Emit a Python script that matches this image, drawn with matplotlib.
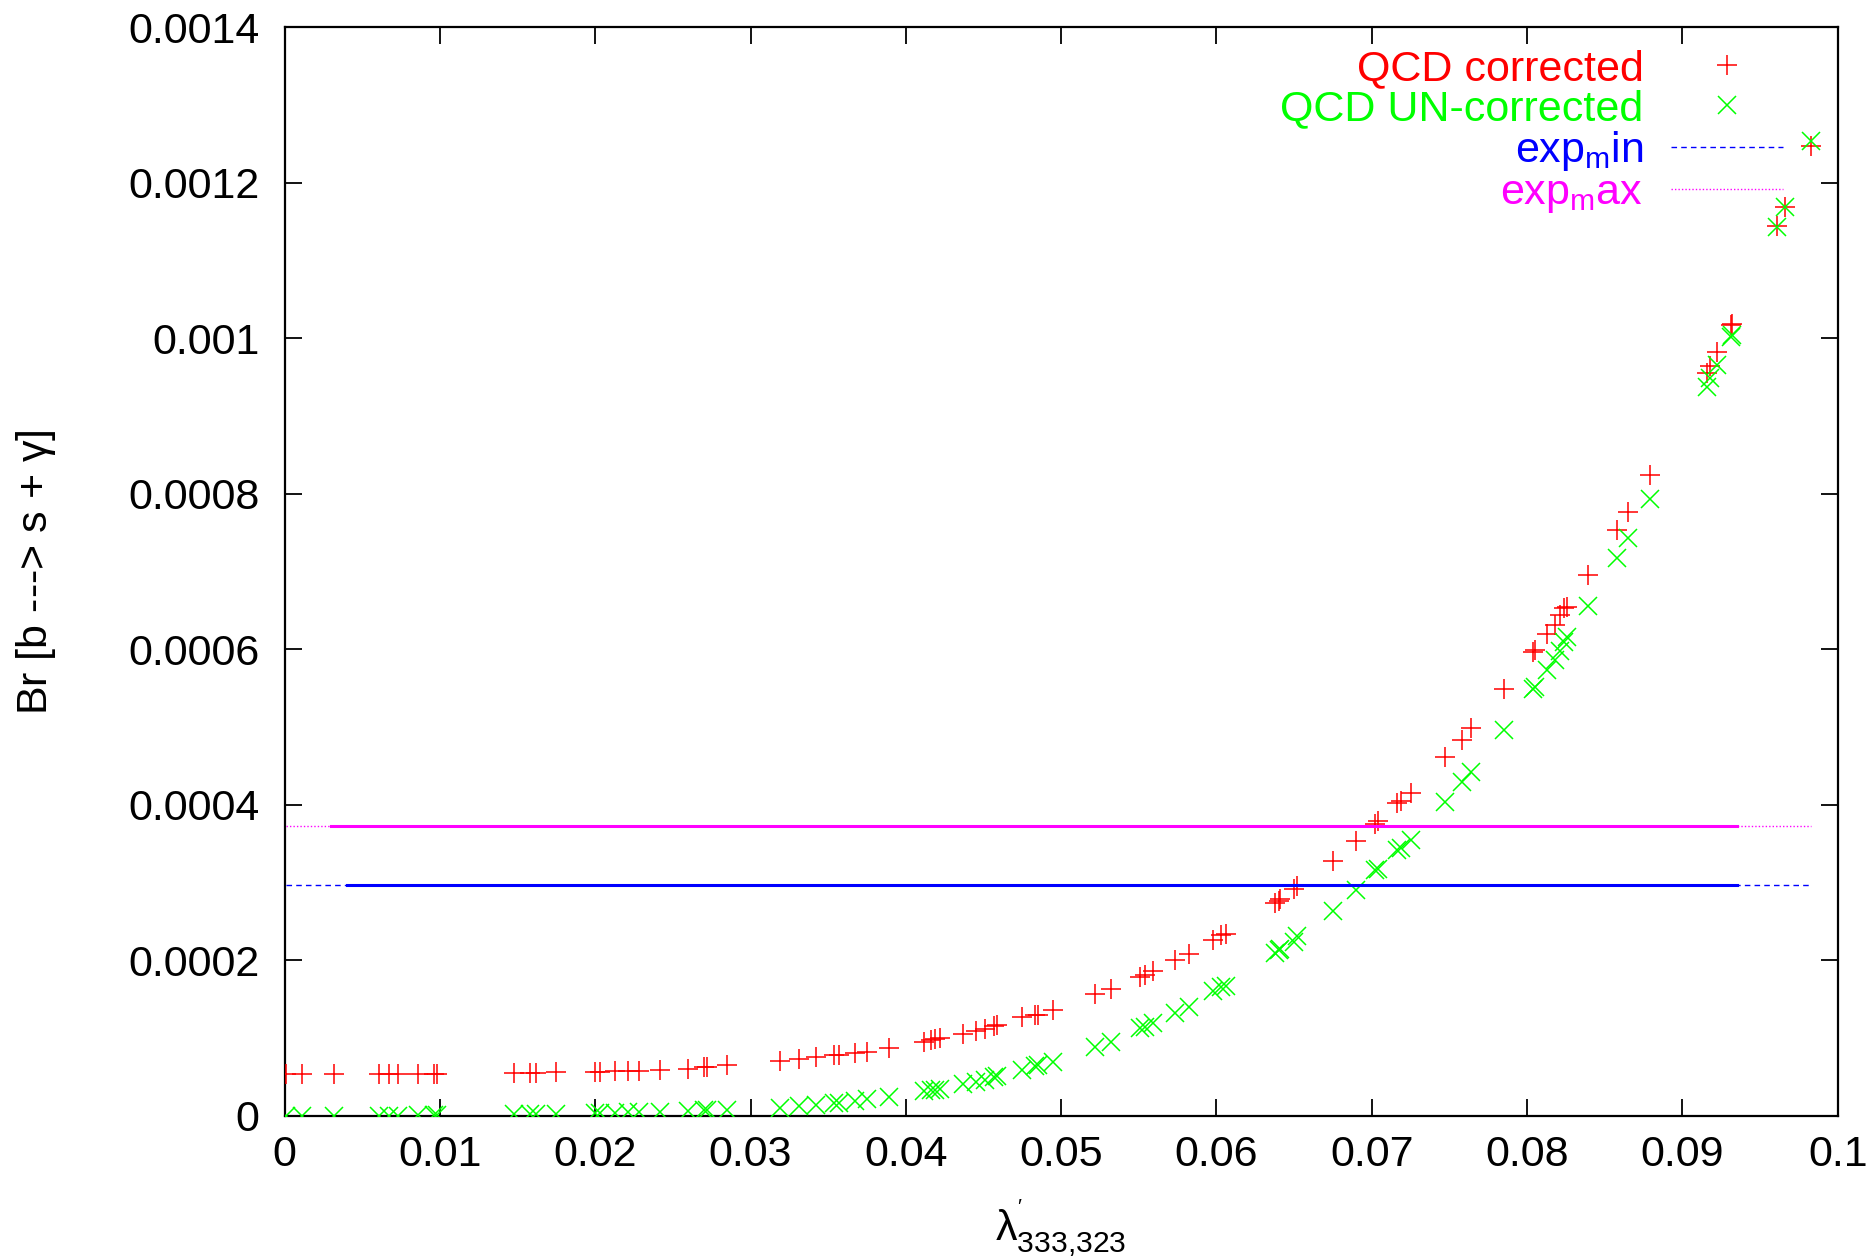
import numpy as np
import matplotlib
matplotlib.use('Agg')
import matplotlib.pyplot as plt
from matplotlib.lines import Line2D

# ---------------- data ----------------
lam = np.array([
    0.00006, 0.0011, 0.0032, 0.0061, 0.0067, 0.0073, 0.0086, 0.0096, 0.0098,
    0.0148, 0.0158, 0.0162, 0.0175, 0.0200, 0.0203, 0.0213, 0.0221, 0.0228, 0.0242, 0.0260, 0.0270, 0.0272, 0.0285,
    0.0319, 0.0331, 0.0342, 0.0354, 0.0357, 0.0367, 0.0375, 0.0389,
    0.0412, 0.0416, 0.0419, 0.0422, 0.0437, 0.0445, 0.0451, 0.0457, 0.0459,
    0.0475, 0.0483, 0.0485, 0.0495, 0.0522, 0.0532, 0.0551, 0.0554, 0.0559, 0.0573, 0.0582, 0.0598, 0.0603, 0.0606,
    0.0638, 0.0640, 0.0641, 0.0650, 0.0652, 0.0675, 0.0690, 0.0702, 0.0704, 0.0716, 0.0719, 0.0725,
    0.0747, 0.0758, 0.0764, 0.0785, 0.0804, 0.0805, 0.0813, 0.0818, 0.0821, 0.0824, 0.0826,
    0.0839, 0.0858, 0.0865, 0.0879, 0.0916, 0.0918, 0.0922, 0.0931, 0.0932, 0.0961, 0.0966, 0.0983,
])

# QCD corrected (units of 1e-5)
br_qcd = np.array([
    5.42, 5.42, 5.43, 5.44, 5.44, 5.44, 5.45, 5.46, 5.46,
    5.50, 5.55, 5.57, 5.60, 5.66, 5.68, 5.72, 5.76, 5.80, 5.85, 6.10, 6.25, 6.30, 6.50,
    7.07, 7.29, 7.55, 7.80, 7.89, 8.06, 8.23, 8.78,
    9.56, 9.73, 9.90, 9.99, 10.55, 10.97, 11.23, 11.57, 11.66,
    12.69, 12.99, 13.03, 13.63, 15.69, 16.37, 17.91, 18.13, 18.69, 20.03, 20.87, 22.65, 23.30, 23.40,
    27.4, 27.7, 27.9, 29.2, 29.6, 32.8, 35.4, 37.5, 37.9, 40.2, 40.5, 41.5,
    46.2, 48.4, 49.9, 54.9, 59.7, 59.9, 62.0, 63.1, 64.4, 65.3, 65.5,
    69.6, 75.4, 77.7, 82.4, 95.5, 96.4, 98.2, 101.7, 101.9, 114.5, 116.9, 124.8,
]) * 1e-5

# QCD UN-corrected (units of 1e-6)
br_noqcd = np.array([
    0.0, 0.0, 0.1, 0.4, 0.4, 0.5, 0.7, 0.9, 0.9,
    2.1, 2.4, 2.5, 3.0, 3.9, 4.0, 4.4, 4.7, 5.0, 5.7, 6.6, 7.1, 7.2, 7.9,
    9.9, 12.9, 14.1, 16.3, 17.1, 19.7, 21.4, 24.8,
    32.0, 33.4, 33.8, 35.1, 41.1, 44.1, 46.3, 50.6, 51.0,
    59.2, 64.3, 65.6, 69.8, 88.3, 95.6, 112.8, 114.9, 119.2, 132.1, 139.8, 161.0, 166.0, 167.0,
    210, 213, 215, 224, 231, 264, 291, 316, 318, 342, 345, 355,
    404, 430, 443, 497, 549, 552, 574, 587, 598, 610, 616,
    656, 717, 743, 794, 937, 949, 966, 1002, 1004, 1143, 1169, 1254,
]) * 1e-6

exp_min = 0.000297
exp_max = 0.000373

series_labels = ['QCD corrected', 'QCD UN-corrected', 'exp$_m$in', 'exp$_m$ax']
xticks = [0, 0.01, 0.02, 0.03, 0.04, 0.05, 0.06, 0.07, 0.08, 0.09, 0.1]
xtick_labels = ['0', '0.01', '0.02', '0.03', '0.04', '0.05', '0.06', '0.07', '0.08', '0.09', '0.1']
yticks = [0, 0.0002, 0.0004, 0.0006, 0.0008, 0.001, 0.0012, 0.0014]
ytick_labels = ['0', '0.0002', '0.0004', '0.0006', '0.0008', '0.001', '0.0012', '0.0014']
xlabel = r"$\lambda^{'}_{333{,}323}$"
ylabel = r"Br [b ---> s + $\gamma$]"

# ---------------- style ----------------
plt.rcParams['font.family'] = ['Liberation Sans', 'DejaVu Sans']
plt.rcParams['mathtext.fontset'] = 'custom'
plt.rcParams['mathtext.rm'] = 'Liberation Sans'
plt.rcParams['mathtext.it'] = 'Liberation Sans'
plt.rcParams['mathtext.default'] = 'regular'

FS = 31
RED = '#ff0000'
GREEN = '#00ff00'
BLUE = '#0000ff'
MAGENTA = '#ff00ff'

fig = plt.figure(figsize=(18.75, 12.58), dpi=100)
ax = fig.add_axes([0.1518, 0.1129, 0.8283, 0.8653])

ax.plot(lam, br_qcd, linestyle='none', marker='+', markersize=14,
        markeredgewidth=1.1, color=RED, zorder=3)
ax.plot(lam, br_noqcd, linestyle='none', marker='x', markersize=13,
        markeredgewidth=1.1, color=GREEN, zorder=3)

# horizontal experimental bounds
x0, x1 = lam.min(), lam.max()
ax.plot([x0, x1], [exp_min, exp_min], color=BLUE, lw=1.0, ls=(0, (4, 3)), zorder=4)
ax.plot([0.004, 0.0935], [exp_min, exp_min], color=BLUE, lw=2.2, zorder=4)
ax.plot([x0, x1], [exp_max, exp_max], color=MAGENTA, lw=1.0, ls=(0, (1, 1.5)), zorder=4)
ax.plot([0.003, 0.0935], [exp_max, exp_max], color=MAGENTA, lw=2.2, zorder=4)

ax.set_xlim(0, 0.1)
ax.set_ylim(0, 0.0014)
ax.set_xticks(xticks)
ax.set_xticklabels(xtick_labels)
ax.set_yticks(yticks)
ax.set_yticklabels(ytick_labels)
ax.tick_params(direction='in', length=12, width=1.3, top=True, right=True,
               labelsize=FS, color='black')
ax.tick_params(axis='x', pad=14)
ax.tick_params(axis='y', pad=18)
for s in ax.spines.values():
    s.set_linewidth(1.6)

ax.set_xlabel(xlabel, fontsize=FS)
ax.set_ylabel(ylabel, fontsize=FS)
ax.xaxis.set_label_coords(0.5, -0.075)
ax.yaxis.set_label_coords(-0.146, 0.5)

handles = [
    Line2D([], [], linestyle='none', marker='+', markersize=14, markeredgewidth=1.1, color=RED),
    Line2D([], [], linestyle='none', marker='x', markersize=13, markeredgewidth=1.1, color=GREEN),
    Line2D([], [], color=BLUE, lw=1.0, ls=(0, (4, 3))),
    Line2D([], [], color=MAGENTA, lw=1.0, ls=(0, (1, 1.5))),
]
leg = ax.legend(handles, series_labels, loc='upper right', markerfirst=False,
                frameon=False, fontsize=FS, labelcolor=[RED, GREEN, BLUE, MAGENTA],
                handlelength=2.6, handletextpad=0.65, labelspacing=0.0,
                borderpad=0.0, borderaxespad=0.0,
                bbox_to_anchor=(0.965, 0.98), bbox_transform=ax.transAxes)

fig.savefig('out.png', dpi=100)
